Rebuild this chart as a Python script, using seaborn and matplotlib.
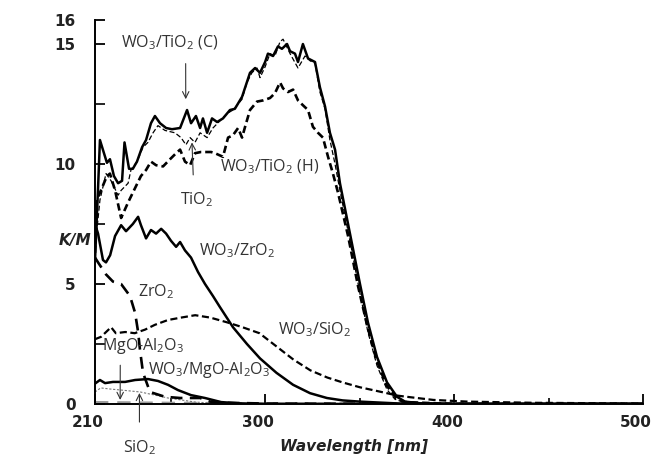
import matplotlib
matplotlib.use("Agg")
import matplotlib.pyplot as plt
import matplotlib.transforms as mtransforms
import seaborn as sns

# --- data (wavelength in nm, K/M) ---
wl_c = [210, 211.6, 212.6, 216.3, 217.9, 220, 222.2, 224.3, 225.6, 228, 230, 232.2,
        234.9, 237, 239.6, 241.7, 244.4, 247.6, 250.7, 255, 258.7, 260.8, 263.4,
        265.6, 267.1, 269.3, 271.9, 274.6, 277.7, 281.4, 284, 287.8, 292, 294.7,
        297.3, 300, 301.5, 304.2, 306.8, 308.9, 311.6, 313.2, 315.8, 317.4, 320,
        322.7, 326.4, 329, 331.7, 334.3, 337, 339.6, 344.9, 350.2, 354.4, 359.2,
        364.5, 369.8, 374, 382, 400, 500]
km_c = [6.0, 9.0, 11.0, 10.05, 10.2, 9.5, 9.2, 9.3, 10.9, 9.8, 9.8, 10.1,
        10.7, 11.0, 11.7, 12.0, 11.7, 11.5, 11.45, 11.5, 12.25, 11.7, 12.0,
        11.5, 11.9, 11.3, 11.9, 11.75, 11.9, 12.25, 12.3, 12.8, 13.8, 14.0,
        13.8, 14.25, 14.6, 14.5, 14.9, 14.8, 15.0, 14.7, 14.6, 14.25, 15.0,
        14.4, 14.25, 13.2, 12.4, 11.3, 10.6, 9.2, 7.1, 5.0, 3.4, 1.96,
        0.9, 0.3, 0.1, 0.03, 0.0, 0.0]

wl_tio2 = [210, 212.6, 215.8, 218.5, 222.2, 223.8, 227.5, 229, 232.2, 235.4, 238,
           240.7, 243.3, 247, 252.3, 255.5, 258.1, 260.3, 262.9, 265.6, 269.3,
           272.4, 276.1, 279.8, 283, 287.8, 290.4, 293, 295.7, 297.3, 300, 302.6,
           305.2, 307.9, 309.5, 313.2, 317.4, 321.1, 323.8, 326.4, 329, 331.7,
           334.3, 337, 339.6, 344.9, 350.2, 354.4, 359.2, 364.5, 368.7, 374,
           400, 500]
km_tio2 = [6.5, 8.5, 9.6, 9.3, 8.7, 8.9, 9.2, 9.75, 10.1, 10.7, 10.9,
           11.3, 11.6, 11.4, 11.3, 11.1, 10.8, 11.1, 10.9, 11.3, 11.1,
           11.5, 11.8, 12.1, 12.25, 12.7, 13.4, 13.8, 14.0, 13.6, 14.05, 14.6,
           14.5, 15.1, 15.2, 14.6, 14.0, 14.5, 14.3, 14.2, 13.0, 12.3,
           11.0, 10.0, 8.9, 6.8, 4.6, 3.0, 1.6, 0.6, 0.2, 0.05,
           0.0, 0.0]

wl_h = [210, 211, 216.3, 217.9, 220.6, 223.8, 227.5, 231.2, 234.3, 237, 239.6,
        242.3, 246, 249.7, 252.9, 255, 257.6, 260.3, 262.9, 266, 271.4, 273.5,
        277.7, 280.4, 283, 285.7, 287.8, 289.4, 292, 295.7, 298.9, 302.6, 305.2,
        307.9, 309.5, 312.1, 314.8, 317.4, 320, 322.7, 325.3, 328, 330.6, 333.3,
        335.9, 338.6, 343.9, 349.2, 353.9, 358.7, 364, 369.3, 374, 400, 500]
km_h = [6.3, 8.5, 9.5, 9.6, 8.9, 7.75, 8.4, 9.0, 9.5, 9.75, 10.1,
        9.95, 9.9, 10.2, 10.45, 10.6, 10.1, 9.95, 10.45, 10.5, 10.5, 10.45,
        10.3, 11.1, 11.2, 11.5, 11.1, 11.55, 12.25, 12.6, 12.65, 12.75, 12.95,
        13.4, 13.15, 13.0, 13.1, 12.65, 12.45, 12.25, 11.55, 11.3, 11.1, 10.3,
        9.6, 8.8, 7.0, 4.9, 3.3, 1.9, 0.8, 0.25, 0.08, 0.0, 0.0]

wl_zr = [210, 211.6, 214.2, 215.8, 218, 220.6, 223.8, 226.4, 230, 232.8, 234.3,
         237, 239.6, 242.3, 245, 247.6, 250.2, 252.9, 255, 257.6, 260.8, 264.5,
         268.2, 272.4, 276, 283, 290.4, 297.3, 306, 314.8, 323.8, 332.7, 341,
         350, 371, 400, 500]
km_zr = [7.5, 7.1, 6.0, 5.9, 6.2, 7.0, 7.45, 7.2, 7.5, 7.8, 7.45,
         6.9, 7.25, 7.1, 7.3, 7.1, 6.8, 6.55, 6.75, 6.4, 6.1, 5.5,
         5.0, 4.5, 4.05, 3.2, 2.5, 1.9, 1.3, 0.8, 0.45, 0.25, 0.15,
         0.1, 0.02, 0.0, 0.0]

wl_zro2 = [210, 211.6, 215.8, 219.5, 223.8, 228.5, 231.2, 232.8, 233.8, 235.4,
           239.1, 247, 255, 265.6, 270.8, 280, 300, 400, 500]
km_zro2 = [6.1, 5.9, 5.4, 5.1, 5.0, 4.5, 3.8, 3.0, 2.25, 1.3,
           0.5, 0.3, 0.25, 0.25, 0.1, 0.05, 0.02, 0.0, 0.0]

wl_si = [210, 213.2, 218.5, 221, 226, 231, 236.5, 241.7, 248.6, 255.5, 263, 271,
         280, 288, 297, 306, 315, 324, 333, 341, 350, 357, 364.5, 370, 375,
         389, 407, 442, 500]
km_si = [2.7, 2.8, 3.2, 2.95, 3.0, 2.95, 3.1, 3.3, 3.5, 3.6, 3.7, 3.6,
         3.4, 3.2, 2.95, 2.4, 1.85, 1.4, 1.1, 0.9, 0.7, 0.58, 0.45, 0.35, 0.3,
         0.17, 0.1, 0.05, 0.02]

wl_mg = [210, 212.6, 215.3, 219.5, 225.9, 231.2, 238, 243.3, 248.6, 253.9, 260.8,
         268.2, 276.7, 285.7, 300, 500]
km_mg = [0.85, 1.0, 0.87, 0.92, 0.92, 1.0, 1.04, 0.96, 0.8, 0.58, 0.37,
         0.25, 0.08, 0.03, 0.0, 0.0]

wl_sio2 = [210, 213, 218.5, 224, 229, 234, 241.7, 248.6, 255.5, 263, 276, 300]
km_sio2 = [0.5, 0.67, 0.62, 0.58, 0.54, 0.5, 0.37, 0.25, 0.17, 0.08, 0.02, 0.0]

wl_mgal = [210, 250, 300, 400, 500]
km_mgal = [0.08, 0.05, 0.03, 0.02, 0.02]

xticks = [210, 300, 400, 500]
xticks_minor = [250, 350, 450]
yticks = [0, 5, 10, 15, 16]
yticks_minor = [2.5, 7.5, 12.5]

sns.set_style("ticks")
plt.rcParams['font.family'] = ['Open Sans', 'DejaVu Sans']
plt.rcParams['mathtext.default'] = 'regular'

fig = plt.figure(figsize=(6.54, 4.58), dpi=100)
ax = fig.add_axes([0.1453, 0.1179, 0.838, 0.8384])

k = 'black'
sns.lineplot(x=wl_mgal, y=km_mgal, ax=ax, color='#9a9a9a', lw=1.6,
             linestyle=(0, (6, 4)))
sns.lineplot(x=wl_sio2, y=km_sio2, ax=ax, color='#777777', lw=0.8,
             linestyle=(0, (2, 1.5)))
sns.lineplot(x=wl_mg, y=km_mg, ax=ax, color=k, lw=1.8)
sns.lineplot(x=wl_zro2, y=km_zro2, ax=ax, color=k, lw=1.9,
             linestyle=(0, (4.5, 2.8)))
sns.lineplot(x=wl_si, y=km_si, ax=ax, color=k, lw=1.6,
             linestyle=(0, (3.2, 1.6)))
sns.lineplot(x=wl_zr, y=km_zr, ax=ax, color=k, lw=1.8)
sns.lineplot(x=wl_h, y=km_h, ax=ax, color=k, lw=1.9,
             linestyle=(0, (2.8, 1.5)))
sns.lineplot(x=wl_tio2, y=km_tio2, ax=ax, color=k, lw=0.9,
             linestyle=(0, (4, 2)))
sns.lineplot(x=wl_c, y=km_c, ax=ax, color=k, lw=1.8)

ax.set_xlim(210, 500)
ax.set_ylim(0, 16)
sns.despine(ax=ax)
for s in ['left', 'bottom']:
    ax.spines[s].set_linewidth(1.4)
    ax.spines[s].set_color('black')

ax.set_xticks(xticks)
ax.set_xticks(xticks_minor, minor=True)
ax.set_yticks(yticks)
ax.set_yticks(yticks_minor, minor=True)
ax.tick_params(axis='both', which='major', direction='in', length=7, width=1.3,
               color='black', labelsize=11, labelcolor='#222222')
ax.tick_params(axis='x', which='minor', direction='in', length=4, width=1.2,
               color='black')
ax.tick_params(axis='y', which='minor', direction='in', length=7, width=1.2,
               color='black')
ax.tick_params(axis='x', pad=8)
ax.tick_params(axis='y', pad=14)
for lab in ax.get_xticklabels() + ax.get_yticklabels():
    lab.set_fontfamily('DejaVu Sans')
    lab.set_fontweight('bold')
shift = mtransforms.ScaledTranslation(-0.07, 0, fig.dpi_scale_trans)
for lab in ax.get_xticklabels():
    lab.set_transform(lab.get_transform() + shift)
ax.set_xlabel('')
ax.set_ylabel('')

fig.text(75 / 654, 1 - 241 / 458, 'K/M', ha='center', va='center',
         family='DejaVu Sans', weight='bold', style='italic', size=11,
         color='#222222')
fig.text(354 / 654, 1 - 447 / 458, 'Wavelength [nm]', ha='center', va='center',
         family='DejaVu Sans', weight='bold', style='italic', size=11,
         color='#222222')

tc = '#333333'
fs = 11.5
arrow = dict(arrowstyle='->', lw=0.8, color=tc, shrinkA=0, shrinkB=0)
ax.annotate('WO$_3$/TiO$_2$ (C)', xy=(258, 12.7), xytext=(249.7, 15.05),
            ha='center', va='center', fontsize=fs, color=tc,
            arrowprops=dict(arrow, relpos=(0.66, 0), shrinkA=6))
ax.annotate('TiO$_2$', xy=(261.3, 10.9), xytext=(263.5, 8.5),
            ha='center', va='center', fontsize=fs, color=tc,
            arrowprops=dict(arrow, relpos=(0.43, 1), shrinkA=9))
ax.text(276, 9.9, 'WO$_3$/TiO$_2$ (H)', ha='left', va='center',
        fontsize=fs, color=tc)
ax.text(265, 6.4, 'WO$_3$/ZrO$_2$', ha='left', va='center',
        fontsize=fs, color=tc)
ax.text(232.5, 4.7, 'ZrO$_2$', ha='left', va='center', fontsize=fs, color=tc)
ax.text(307, 3.1, 'WO$_3$/SiO$_2$', ha='left', va='center',
        fontsize=fs, color=tc)
ax.annotate('MgO-Al$_2$O$_3$', xy=(223.3, 0.17), xytext=(213.8, 2.4),
            ha='left', va='center', fontsize=fs, color=tc,
            arrowprops=dict(arrow, relpos=(0.22, 0), shrinkA=4))
ax.text(238, 1.42, 'WO$_3$/MgO-Al$_2$O$_3$', ha='left', va='center',
        fontsize=fs, color=tc)
ax.annotate('SiO$_2$', xy=(233.5, 0.46), xytext=(233.5, -1.8),
            ha='center', va='center', fontsize=fs, color=tc,
            annotation_clip=False,
            arrowprops=dict(arrow, relpos=(0.5, 1), shrinkA=9))

fig.savefig('out.png', dpi=100)
